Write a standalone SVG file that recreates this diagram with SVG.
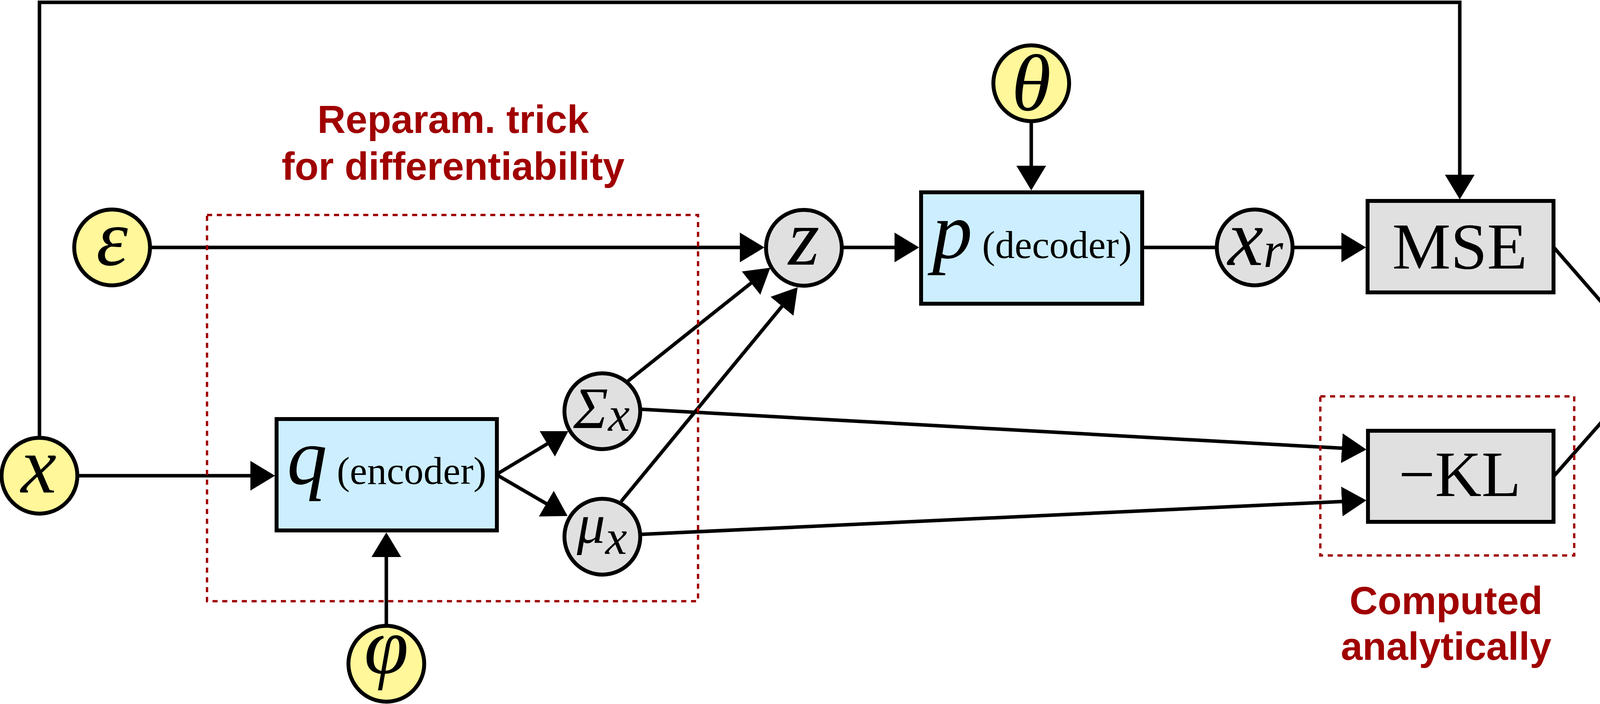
<svg xmlns="http://www.w3.org/2000/svg" width="4335" height="1801" viewBox="0 0 4335 1801">
<style>
.bg{fill:#ffffff}
.node{stroke:#000;stroke-width:10}
.yel{fill:#fff799}
.gry{fill:#e0e0e0}
.blu{fill:#cceeff}
.pnk{fill:#ffc8c8}
.edge{fill:none;stroke:#000;stroke-width:9}
.arr{marker-end:url(#ah)}
.clus{fill:none;stroke:#a00000;stroke-width:6;stroke-dasharray:13 12}
.m{font-family:"Liberation Serif","Times New Roman",serif;font-style:italic;text-anchor:middle;fill:#000}
.r{font-family:"Liberation Serif","Times New Roman",serif;text-anchor:middle;fill:#000}
.lab{font-family:"Liberation Sans",Arial,sans-serif;font-weight:bold;font-size:100px;text-anchor:middle;fill:#a00000}
</style>
<defs>
<marker id="ah" viewBox="0 0 63 76" markerWidth="63" markerHeight="76" refX="55" refY="38" orient="auto" markerUnits="userSpaceOnUse">
<path d="M0,0 L63,38 L0,76 Z" fill="#000"/>
</marker>
</defs>
<rect class="bg" x="0" y="0" width="4335" height="1801"/>

<g id="connectors">
<path class="edge arr" d="M101,1120 V6 H3737 V502"/>
<path class="edge arr" d="M198,1217 H696"/>
<path class="edge arr" d="M989,1601 V1370"/>
<path class="edge arr" d="M384,633 H1949"/>
<path class="edge arr" d="M2155,633 H2345"/>
<path class="edge arr" d="M2640,310 V479"/>
<path class="edge" d="M2925,633 H3117"/>
<path class="edge arr" d="M3309,633 H3489"/>
<path class="edge arr" d="M3977,632 L4161.7,844"/>
<path class="edge arr" d="M3977,1219 L4161.7,1010"/>
<path class="edge arr" d="M1272,1213 L1448.1,1107.1"/>
<path class="edge arr" d="M1272,1215 L1446.1,1316"/>
<path class="edge arr" d="M1605,977 L1965.7,690"/>
<path class="edge arr" d="M1590,1283 L2036.9,741.2"/>
<path class="edge arr" d="M1642,1047 L3490,1149.6"/>
<path class="edge arr" d="M1642,1367 L3490,1280.4"/>
</g>

<g id="node-x"><circle class="node yel" cx="101" cy="1217" r="97"/><text class="m" x="99" y="1260" font-size="205">x</text></g>
<g id="node-eps"><circle class="node yel" cx="287" cy="633" r="97"/><text class="m" x="287" y="678" font-size="205">ε</text></g>
<g id="node-phi"><circle class="node yel" cx="989" cy="1698" r="97"/><text class="m" x="989" y="1722" font-size="205">φ</text></g>
<g id="node-theta"><circle class="node yel" cx="2640" cy="213" r="97"/><text class="m" x="2640" y="282" font-size="205">θ</text></g>
<g id="node-q"><rect class="node blu" x="708" y="1072" width="564" height="285"/><text class="r" x="990" y="1238"><tspan font-style="italic" font-size="205">q</tspan><tspan font-size="100"> (encoder)</tspan></text></g>
<g id="node-p"><rect class="node blu" x="2358" y="492" width="566" height="285"/><text class="r" x="2642" y="660"><tspan font-style="italic" font-size="205">p</tspan><tspan font-size="100"> (decoder)</tspan></text></g>
<g id="node-sigma"><circle class="node gry" cx="1542" cy="1052" r="97"/><text class="m" x="1540" y="1095"><tspan font-size="150">Σ</tspan><tspan font-size="125" dy="7">x</tspan></text></g>
<g id="node-mu"><circle class="node gry" cx="1542" cy="1373" r="97"/><text class="m" x="1541" y="1389"><tspan font-size="145">μ</tspan><tspan font-size="125" dy="28">x</tspan></text></g>
<g id="node-z"><circle class="node gry" cx="2058" cy="634" r="97"/><text class="m" x="2058" y="677" font-size="205">z</text></g>
<g id="node-xr"><circle class="node gry" cx="3212" cy="633" r="97"/><text class="m" x="3214" y="678"><tspan font-size="205">x</tspan><tspan font-size="130" dy="5">r</tspan></text></g>
<g id="node-mse"><rect class="node gry" x="3501" y="514" width="476" height="234"/><text class="r" x="3737" y="687" font-size="168">MSE</text></g>
<g id="node-kl"><rect class="node gry" x="3502" y="1102" width="475" height="233"/><text class="r" x="3737" y="1269" font-size="165">−KL</text></g>
<g id="node-L"><circle class="node pnk" cx="4233" cy="926" r="97"/><text class="r" x="4236" y="980" font-size="168">L</text></g>

<g id="cluster-reparam">
<rect class="clus" x="530" y="550" width="1257" height="988"/>
<text class="lab" x="1160" y="340">Reparam. trick</text>
<text class="lab" x="1160" y="460">for differentiability</text>
</g>
<g id="cluster-kl">
<rect class="clus" x="3380" y="1014" width="650" height="407"/>
<text class="lab" x="3702" y="1571">Computed</text>
<text class="lab" x="3702" y="1688">analytically</text>
</g>
</svg>
